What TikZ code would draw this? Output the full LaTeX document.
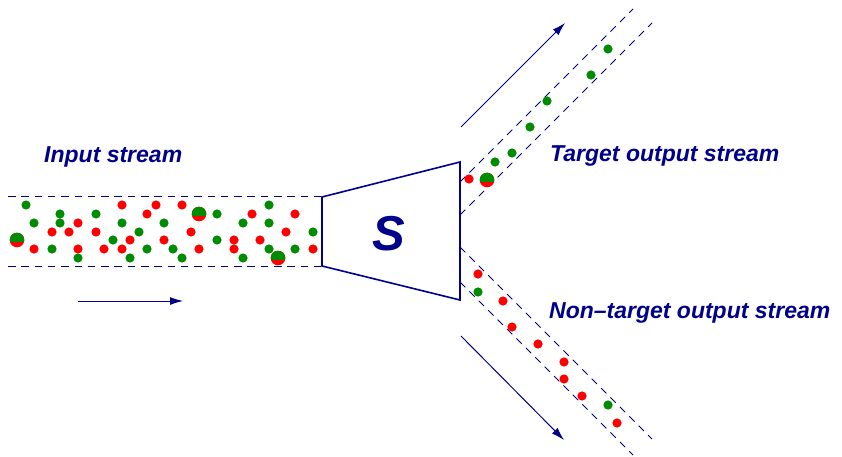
\documentclass[tikz,border=0pt]{standalone}
\usepackage{fontspec}
\setmainfont{Liberation Sans}
\usepackage{tikz}
\usetikzlibrary{arrows.meta, positioning}
\definecolor{Navy}{HTML}{00008B}
\definecolor{DotRed}{HTML}{FF0000}
\definecolor{DotGreen}{HTML}{008C00}

\begin{document}
\begin{tikzpicture}[
    x=1pt, y=-1pt,
    wall/.style={Navy, line width=0.8pt, dash pattern=on 7.5pt off 5.8pt},
    flow/.style={-{Latex[length=13pt, width=8pt]}, line width=1pt, Navy},
    tag/.style={Navy, font=\fontsize{23}{27}\selectfont\bfseries\itshape, anchor=base west, inner sep=0pt},
    rdot/.style={fill=DotRed},
    gdot/.style={fill=DotGreen}
]
\useasboundingbox (0,0) rectangle (842,457);

% Separator
\coordinate (tl) at (322,197);
\coordinate (tr) at (460,162);
\coordinate (br) at (460,300);
\coordinate (bl) at (322,266);
\draw[Navy, line width=1.6pt, line join=miter] (tl) -- (tr) -- (br) -- (bl) -- cycle;
\node[Navy, font=\fontsize{49}{55}\selectfont\bfseries\itshape, anchor=base, inner sep=0pt] (sep) at (389,250) {S};

% Input stream
\draw[wall] (8,196) -- (tl |- 0,196);
\draw[wall] (8,266) -- (bl |- 0,266);
\foreach \x/\y in {122/205, 156/205, 147/214, 78/223, 52/232, 69/232, 96/232,
                   130/240, 164/240, 34/249, 78/249, 104/249, 122/249,
                   182/205, 252/214, 295/214, 191/232, 286/232, 234/240,
                   260/240, 199/249, 234/249, 313/249}
    \fill[rdot] (\x,\y) circle (4.6pt);
\foreach \x/\y in {26/205, 60/214, 96/214, 34/223, 60/223, 122/223, 164/223,
                   139/232, 113/240, 52/249, 147/249, 78/258, 130/258,
                   269/205, 217/214, 243/223, 269/223, 313/232, 217/240,
                   173/249, 269/249, 295/249, 182/258, 243/258}
    \fill[gdot] (\x,\y) circle (4.6pt);

% Target output stream
\draw[wall] (460,182) -- (633,9);
\draw[wall] (460,215) -- (652,23);
\fill[rdot] (469,179) circle (4.6pt);
\foreach \x/\y in {495/162, 512/153, 530/127, 547/101, 591/75, 608/49}
    \fill[gdot] (\x,\y) circle (4.6pt);

% Non-target output stream
\draw[wall] (460,247) -- (652,439);
\draw[wall] (460,282) -- (633,455);
\foreach \x/\y in {478/274, 503/301, 512/327, 538/344, 564/362, 564/379,
                   582/396, 617/423}
    \fill[rdot] (\x,\y) circle (4.6pt);
\foreach \x/\y in {478/292, 608/405}
    \fill[gdot] (\x,\y) circle (4.6pt);

% Mixed particles
\foreach \x/\y in {17/240, 199/214, 278/258, 487/180} {
    \fill[rdot] (\x,\y) circle (7.3pt);
    \begin{scope}
        \clip (\x-8,\y-8) rectangle (\x+8,\y+1);
        \fill[gdot] (\x,\y) circle (7.3pt);
    \end{scope}
}

% Flow directions
\coordinate (inA) at (78,301);
\coordinate (inB) at (183,301);
\coordinate (upA) at (461,127);
\coordinate (upB) at (565,23);
\coordinate (loA) at (461,336);
\coordinate (loB) at (564,440);
\draw[flow] (inA) -- (inB);
\draw[flow] (upA) -- (upB);
\draw[flow] (loA) -- (loB);

% Labels
\node[tag] (input) at (44,162) {Input stream};
\node[tag] (target) at (550,161) {Target output stream};
\node[tag] (nontarget) at (549,318) {Non--target output stream};
\end{tikzpicture}
\end{document}
